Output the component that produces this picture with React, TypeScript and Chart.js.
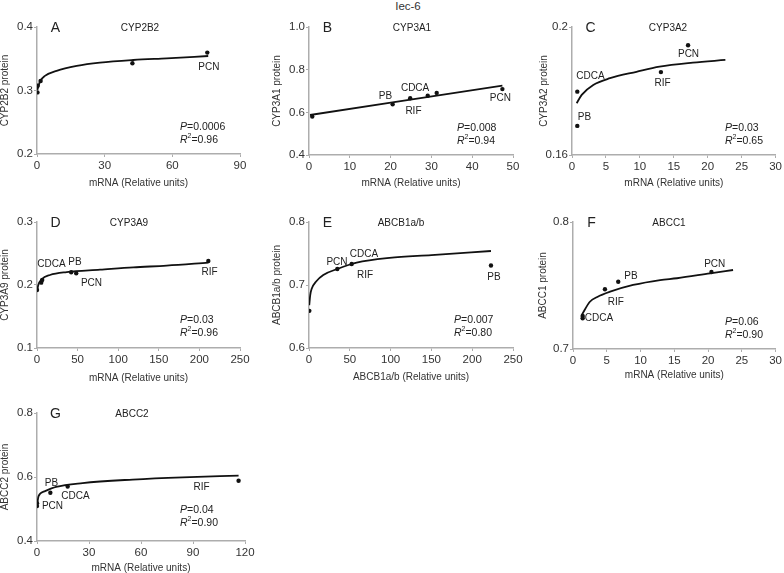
import React, { useEffect, useRef } from 'react';
import { Chart, registerables } from 'chart.js';
Chart.register(...registerables);

const FONT = "'Liberation Sans', Arial, Helvetica, sans-serif";

// ---------- Panel A: CYP2B2 ----------
const aPointX = [0.2, 0.3, 1.6, 42.3, 75.5];
const aPointY = [0.297, 0.3075, 0.315, 0.343, 0.3597];
const aCurveX = [0.15, 1.3, 3.5, 8.7, 17.6, 27.9, 42.7, 57.5, 75.9];
const aCurveY = [0.301, 0.314, 0.323, 0.331, 0.3386, 0.3438, 0.348, 0.3507, 0.3543];
const aXTicks = [0, 30, 60, 90];
const aXTickLabels = ['0', '30', '60', '90'];
const aYTicks = [0.2, 0.3, 0.4];
const aYTickLabels = ['0.2', '0.3', '0.4'];

// ---------- Panel B: CYP3A1 ----------
const bPointX = [0.8, 20.5, 24.8, 29.1, 31.3, 47.4];
const bPointY = [0.58, 0.638, 0.666, 0.678, 0.691, 0.709];
const bCurveX = [0.25, 47.4];
const bCurveY = [0.5875, 0.725];
const bXTicks = [0, 10, 20, 30, 40, 50];
const bXTickLabels = ['0', '10', '20', '30', '40', '50'];
const bYTicks = [0.4, 0.6, 0.8, 1.0];
const bYTickLabels = ['0.4', '0.6', '0.8', '1.0'];

// ---------- Panel C: CYP3A2 ----------
const cPointX = [0.78, 0.78, 13.1, 17.1];
const cPointY = [0.1798, 0.1691, 0.1859, 0.1943];
const cCurveX = [0.69, 1.43, 3.13, 5.6, 9.5, 12.9, 17.8, 22.6];
const cCurveY = [0.1762, 0.1788, 0.1819, 0.184, 0.186, 0.1876, 0.18885, 0.1897];
const cXTicks = [0, 5, 10, 15, 20, 25, 30];
const cXTickLabels = ['0', '5', '10', '15', '20', '25', '30'];
const cYTicks = [0.16, 0.2];
const cYTickLabels = ['0.16', '0.2'];

// ---------- Panel D: CYP3A9 ----------
const dPointX = [0, 5.2, 6.4, 42.1, 48.3, 211];
const dPointY = [0.192, 0.2037, 0.208, 0.2202, 0.2186, 0.238];
const dCurveX = [0, 1.6, 5.8, 16, 36.6, 77.6, 118.6, 159.7, 211];
const dCurveY = [0.1894, 0.2, 0.209, 0.2159, 0.2206, 0.2243, 0.228, 0.2307, 0.2354];
const dXTicks = [0, 50, 100, 150, 200, 250];
const dXTickLabels = ['0', '50', '100', '150', '200', '250'];
const dYTicks = [0.1, 0.2, 0.3];
const dYTickLabels = ['0.1', '0.2', '0.3'];

// ---------- Panel E: ABCB1a/b ----------
const ePointX = [0.4, 34.7, 52.3, 223];
const ePointY = [0.659, 0.7254, 0.7333, 0.731];
const eCurveX = [0.3, 1.5, 3.3, 9, 17.5, 34.7, 58.4, 98.7, 150, 223];
const eCurveY = [0.668, 0.684, 0.694, 0.706, 0.716, 0.7254, 0.7354, 0.743, 0.7475, 0.754];
const eXTicks = [0, 50, 100, 150, 200, 250];
const eXTickLabels = ['0', '50', '100', '150', '200', '250'];
const eYTicks = [0.6, 0.7, 0.8];
const eYTickLabels = ['0.6', '0.7', '0.8'];

// ---------- Panel F: ABCC1 ----------
const fPointX = [1.43, 1.43, 4.73, 6.7, 20.5];
const fPointY = [0.7242, 0.726, 0.747, 0.753, 0.7606];
const fCurveX = [1.3, 2.5, 3.6, 5.5, 8.9, 12.9, 15.4, 20.3, 23.7];
const fCurveY = [0.7268, 0.7372, 0.741, 0.7451, 0.7504, 0.7543, 0.7557, 0.7596, 0.7622];
const fXTicks = [0, 5, 10, 15, 20, 25, 30];
const fXTickLabels = ['0', '5', '10', '15', '20', '25', '30'];
const fYTicks = [0.7, 0.8];
const fYTickLabels = ['0.7', '0.8'];

// ---------- Panel G: ABCC2 ----------
const gPointX = [0, 0, 7.7, 17.7, 116.3];
const gPointY = [0.509, 0.518, 0.551, 0.57, 0.5885];
const gCurveX = [0, 0.9, 4.2, 11, 26.3, 55.2, 84, 116.3];
const gCurveY = [0.51, 0.54, 0.555, 0.569, 0.581, 0.592, 0.599, 0.604];
const gXTicks = [0, 30, 60, 90, 120];
const gXTickLabels = ['0', '30', '60', '90', '120'];
const gYTicks = [0.4, 0.6, 0.8];
const gYTickLabels = ['0.4', '0.6', '0.8'];

type Lbl = { t: string; x: number; y: number };
type Panel = {
  letter: string; title: string; yTitle: string; xTitle: string;
  px: number[]; py: number[]; cx: number[]; cy: number[];
  xTicks: number[]; xTickLabels: string[]; yTicks: number[]; yTickLabels: string[];
  labels: Lbl[]; p: string; r2: string;
  box: { L: number; R: number; T: number; B: number; yT: number; xT: number };
  titleDx: number; statDx: number; statDy: number;
};

const panels: Panel[] = [
  {
    letter: 'A', title: 'CYP2B2', yTitle: 'CYP2B2 protein', xTitle: 'mRNA (Relative units)',
    px: aPointX, py: aPointY, cx: aCurveX, cy: aCurveY,
    xTicks: aXTicks, xTickLabels: aXTickLabels, yTicks: aYTicks, yTickLabels: aYTickLabels,
    labels: [{ t: 'PCN', x: 76.2, y: 0.3373 }], p: '0.0006', r2: '0.96',
    box: { L: 37, R: 240, T: 27, B: 154, yT: 5, xT: 183 }, titleDx: 103, statDx: 143, statDy: 100,
  },
  {
    letter: 'B', title: 'CYP3A1', yTitle: 'CYP3A1 protein', xTitle: 'mRNA (Relative units)',
    px: bPointX, py: bPointY, cx: bCurveX, cy: bCurveY,
    xTicks: bXTicks, xTickLabels: bXTickLabels, yTicks: bYTicks, yTickLabels: bYTickLabels,
    labels: [
      { t: 'PB', x: 18.75, y: 0.6766 }, { t: 'CDCA', x: 26.0, y: 0.711 },
      { t: 'RIF', x: 25.6, y: 0.606 }, { t: 'PCN', x: 46.9, y: 0.667 },
    ], p: '0.008', r2: '0.94',
    box: { L: 309, R: 513, T: 27, B: 155, yT: 277, xT: 183 }, titleDx: 103, statDx: 148, statDy: 101,
  },
  {
    letter: 'C', title: 'CYP3A2', yTitle: 'CYP3A2 protein', xTitle: 'mRNA (Relative units)',
    px: cPointX, py: cPointY, cx: cCurveX, cy: cCurveY,
    xTicks: cXTicks, xTickLabels: cXTickLabels, yTicks: cYTicks, yTickLabels: cYTickLabels,
    labels: [
      { t: 'CDCA', x: 2.73, y: 0.1847 }, { t: 'PB', x: 1.84, y: 0.1719 },
      { t: 'RIF', x: 13.34, y: 0.1825 }, { t: 'PCN', x: 17.17, y: 0.19156 },
    ], p: '0.03', r2: '0.65',
    box: { L: 572, R: 776, T: 27, B: 155, yT: 544, xT: 183 }, titleDx: 96, statDx: 153, statDy: 101,
  },
  {
    letter: 'D', title: 'CYP3A9', yTitle: 'CYP3A9 protein', xTitle: 'mRNA (Relative units)',
    px: dPointX, py: dPointY, cx: dCurveX, cy: dCurveY,
    xTicks: dXTicks, xTickLabels: dXTickLabels, yTicks: dYTicks, yTickLabels: dYTickLabels,
    labels: [
      { t: 'CDCA', x: 17.9, y: 0.2333 }, { t: 'PB', x: 46.8, y: 0.2365 },
      { t: 'PCN', x: 67.1, y: 0.2032 }, { t: 'RIF', x: 212.4, y: 0.2206 },
    ], p: '0.03', r2: '0.96',
    box: { L: 37, R: 240, T: 222, B: 348, yT: 5, xT: 378 }, titleDx: 92, statDx: 143, statDy: 98,
  },
  {
    letter: 'E', title: 'ABCB1a/b', yTitle: 'ABCB1a/b protein', xTitle: 'ABCB1a/b (Relative units)',
    px: ePointX, py: ePointY, cx: eCurveX, cy: eCurveY,
    xTicks: eXTicks, xTickLabels: eXTickLabels, yTicks: eYTicks, yTickLabels: eYTickLabels,
    labels: [
      { t: 'PCN', x: 34.3, y: 0.7365 }, { t: 'CDCA', x: 67.4, y: 0.7492 },
      { t: 'RIF', x: 68.6, y: 0.7159 }, { t: 'PB', x: 226.7, y: 0.7127 },
    ], p: '0.007', r2: '0.80',
    box: { L: 309, R: 513, T: 222, B: 348, yT: 277, xT: 377 }, titleDx: 92, statDx: 145, statDy: 98,
  },
  {
    letter: 'F', title: 'ABCC1', yTitle: 'ABCC1 protein', xTitle: 'mRNA (Relative units)',
    px: fPointX, py: fPointY, cx: fCurveX, cy: fCurveY,
    xTicks: fXTicks, xTickLabels: fXTickLabels, yTicks: fYTicks, yTickLabels: fYTickLabels,
    labels: [
      { t: 'PB', x: 8.57, y: 0.7575 }, { t: 'RIF', x: 6.35, y: 0.737 },
      { t: 'CDCA', x: 3.84, y: 0.7244 }, { t: 'PCN', x: 20.98, y: 0.7669 },
    ], p: '0.06', r2: '0.90',
    box: { L: 573, R: 776, T: 222, B: 349, yT: 543, xT: 375 }, titleDx: 96, statDx: 152, statDy: 100,
  },
  {
    letter: 'G', title: 'ABCC2', yTitle: 'ABCC2 protein', xTitle: 'mRNA (Relative units)',
    px: gPointX, py: gPointY, cx: gCurveX, cy: gCurveY,
    xTicks: gXTicks, xTickLabels: gXTickLabels, yTicks: gYTicks, yTickLabels: gYTickLabels,
    labels: [
      { t: 'PB', x: 8.37, y: 0.581 }, { t: 'CDCA', x: 22.2, y: 0.5406 },
      { t: 'PCN', x: 8.94, y: 0.5094 }, { t: 'RIF', x: 94.9, y: 0.5688 },
    ], p: '0.04', r2: '0.90',
    box: { L: 37, R: 245, T: 413, B: 541, yT: 5, xT: 568 }, titleDx: 95, statDx: 143, statDy: 97,
  },
];

const AXIS = '#adadad';
const TICK = '#333';

function geom(pl: Panel) {
  const { L, R, T, B, yT, xT } = pl.box;
  const cL = Math.round(yT - 6);
  const cT = T - 20;
  const cR = Math.min(R + 14, 784);
  const cB = xT + 6;
  return { cL, cT, w: cR - cL, h: cB - cT, yW: L - cL, xH: cB - B, padTop: T - cT, padRight: cR - R };
}

function PanelChart({ pl }: { pl: Panel }) {
  const ref = useRef<HTMLCanvasElement | null>(null);
  const g = geom(pl);
  useEffect(() => {
    if (!ref.current) return;
    const textPlugin = {
      id: 'panelText',
      afterDraw(chart: any) {
        const ctx = chart.ctx;
        const { left, top } = chart.chartArea;
        const xs = chart.scales.x;
        const ys = chart.scales.y;
        ctx.save();
        ctx.fillStyle = '#222';
        ctx.textBaseline = 'middle';
        ctx.textAlign = 'center';
        ctx.font = `14px ${FONT}`;
        ctx.fillText(pl.letter, left + 18.5, top + 1);
        ctx.font = `10px ${FONT}`;
        ctx.fillText(pl.title, left + pl.titleDx, top + 1);
        ctx.font = `10px ${FONT}`;
        pl.labels.forEach((l) => {
          ctx.fillText(l.t, xs.getPixelForValue(l.x), ys.getPixelForValue(l.y));
        });
        ctx.textAlign = 'left';
        let x0 = left + pl.statDx;
        let y0 = top + pl.statDy;
        ctx.font = `italic 10.5px ${FONT}`;
        ctx.fillText('P', x0, y0);
        let w = ctx.measureText('P').width;
        ctx.font = `10.5px ${FONT}`;
        ctx.fillText('=' + pl.p, x0 + w, y0);
        y0 += 13;
        ctx.font = `italic 10.5px ${FONT}`;
        ctx.fillText('R', x0, y0);
        w = ctx.measureText('R').width;
        ctx.font = `7px ${FONT}`;
        ctx.fillText('2', x0 + w, y0 - 4);
        w += ctx.measureText('2').width;
        ctx.font = `10.5px ${FONT}`;
        ctx.fillText('=' + pl.r2, x0 + w, y0);
        ctx.restore();
      },
    };
    const chart = new Chart(ref.current, {
      type: 'scatter',
      data: {
        datasets: [
          {
            data: pl.cx.map((x, i) => ({ x, y: pl.cy[i] })),
            showLine: true,
            borderColor: '#111',
            borderWidth: 1.8,
            pointRadius: 0,
            cubicInterpolationMode: 'monotone',
          } as any,
          {
            data: pl.px.map((x, i) => ({ x, y: pl.py[i] })),
            showLine: false,
            pointRadius: 2.2,
            backgroundColor: '#111',
            borderColor: '#111',
            borderWidth: 0,
          },
        ],
      },
      options: {
        responsive: false,
        animation: false,
        layout: { padding: { left: 0, top: g.padTop, right: g.padRight, bottom: 0 } },
        plugins: { legend: { display: false }, tooltip: { enabled: false } },
        scales: {
          x: {
            type: 'linear',
            min: pl.xTicks[0],
            max: pl.xTicks[pl.xTicks.length - 1],
            afterBuildTicks: (s: any) => { s.ticks = pl.xTicks.map((v) => ({ value: v })); },
            afterFit: (s: any) => { s.height = g.xH; },
            ticks: {
              callback: (_v: any, i: number) => pl.xTickLabels[i],
              font: { family: FONT, size: 11.5 },
              color: TICK,
              padding: 2,
              maxRotation: 0,
              autoSkip: false,
            },
            grid: { display: true, drawOnChartArea: false, drawTicks: true, tickLength: 3, color: AXIS },
            border: { display: true, color: AXIS, width: 1.5 },
            title: { display: true, text: pl.xTitle, font: { family: FONT, size: 10 }, color: TICK, padding: 0 },
          },
          y: {
            type: 'linear',
            min: pl.yTicks[0],
            max: pl.yTicks[pl.yTicks.length - 1],
            afterBuildTicks: (s: any) => { s.ticks = pl.yTicks.map((v) => ({ value: v })); },
            afterFit: (s: any) => { s.width = g.yW; },
            ticks: {
              callback: (_v: any, i: number) => pl.yTickLabels[i],
              font: { family: FONT, size: 11.5 },
              color: TICK,
              padding: 1,
              autoSkip: false,
            },
            grid: { display: true, drawOnChartArea: false, drawTicks: true, tickLength: 3, color: AXIS },
            border: { display: true, color: AXIS, width: 1.5 },
            title: { display: true, text: pl.yTitle, font: { family: FONT, size: 10 }, color: TICK, padding: 0 },
          },
        },
      },
      plugins: [textPlugin],
    } as any);
    return () => chart.destroy();
  }, []);
  return (
    <canvas
      ref={ref}
      width={g.w}
      height={g.h}
      style={{ position: 'absolute', left: g.cL, top: g.cT, width: g.w, height: g.h }}
    />
  );
}

export default function App() {
  return (
    <div
      style={{
        position: 'absolute', left: 0, top: 0, width: 784, height: 573,
        overflow: 'hidden', background: '#fff',
      }}
    >
      <div
        style={{
          position: 'absolute', left: 358, top: 0, width: 100, height: 12,
          lineHeight: '12px', textAlign: 'center', fontFamily: FONT, fontSize: 11.5, color: '#333',
        }}
      >
        Iec-6
      </div>
      {panels.map((pl) => (
        <PanelChart key={pl.letter} pl={pl} />
      ))}
    </div>
  );
}
